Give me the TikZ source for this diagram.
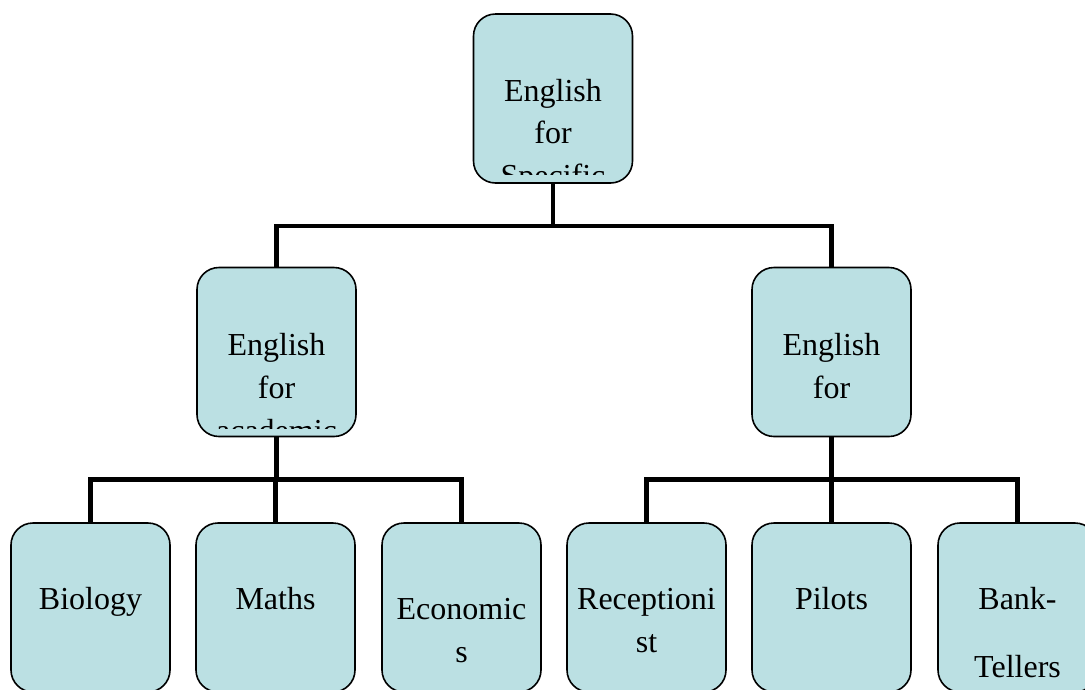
\documentclass[tikz,border=0pt]{standalone}
\usepackage{fontspec}
\setmainfont{Liberation Serif}
\usetikzlibrary{positioning}
\definecolor{boxblue}{RGB}{187,224,227}

\begin{document}
\begin{tikzpicture}[x=1pt,y=1pt,
  box/.style={draw,black,fill=boxblue,rounded corners=22pt,line width=1.6pt,
    minimum width=159pt,minimum height=169pt,inner sep=0pt},
  word/.style={anchor=base,inner sep=0pt,font=\fontsize{32}{38}\selectfont},
  conn/.style={line width=4.5pt}]
\def\h{42}
\useasboundingbox (0,0) rectangle (1085,-689);
%\fill[white] (0,0) rectangle (1085,-689);

% boxes
\node [box, name=top]    at (553,-98.5) {};
\node [box, name=acad]   at (276.5,-352) {};
\node [box, name=occ]    at (831.5,-352) {};
\node [box, name=bio]    at (90.5,-607.5) {};
\node [box, name=maths]  at (275.5,-607.5) {};
\node [box, name=econ]   at (461.5,-607.5) {};
\node [box, name=recep]  at (646.5,-607.5) {};
\node [box, name=pilot]  at (831.5,-607.5) {};
\node [box, name=bank]   at (1017.5,-607.5) {};

% connectors
\draw [conn] (top.south) -- ++(0,-\h) -| (acad.north);
\draw [conn] (top.south) -- ++(0,-\h) -| (occ.north);
\draw [conn] (acad.south) -- ++(0,-\h) -| (bio.north);
\draw [conn] (acad.south) -- ++(0,-\h) -| (maths.north);
\draw [conn] (acad.south) -- ++(0,-\h) -| (econ.north);
\draw [conn] (occ.south) -- ++(0,-\h) -| (recep.north);
\draw [conn] (occ.south) -- ++(0,-\h) -| (pilot.north);
\draw [conn] (occ.south) -- ++(0,-\h) -| (bank.north);

% texts
\node [word, name=top1]  at (553,-101) {English};
\node [word, name=top2]  at (553,-143) {for};
\begin{scope}
\clip (top.south west) ++(0,9) rectangle (top.north east);
\node [word, name=top3]  at (553,-186) {Specific};
\end{scope}
\node [word, name=acad1] at (276.5,-355) {English};
\node [word, name=acad2] at (276.5,-398) {for};
\begin{scope}
\clip (acad.south west) ++(0,9) rectangle (acad.north east);
\node [word, name=acad3] at (276.5,-441) {academic};
\end{scope}
\node [word, name=occ1]  at (831.5,-355) {English};
\node [word, name=occ2]  at (831.5,-398) {for};
\node [word, name=bio1]  at (90.5,-609) {Biology};
\node [word, name=maths1] at (275.5,-609) {Maths};
\node [word, name=econ1] at (461.5,-619) {Economic};
\node [word, name=econ2] at (461.5,-662) {s};
\node [word, name=recep1] at (646.5,-609) {Receptioni};
\node [word, name=recep2] at (646.5,-652) {st};
\node [word, name=pilot1] at (831.5,-609) {Pilots};
\node [word, name=bank1] at (1017.5,-609) {Bank-};
\node [word, name=bank2] at (1017.5,-677) {Tellers};
\end{tikzpicture}
\end{document}
